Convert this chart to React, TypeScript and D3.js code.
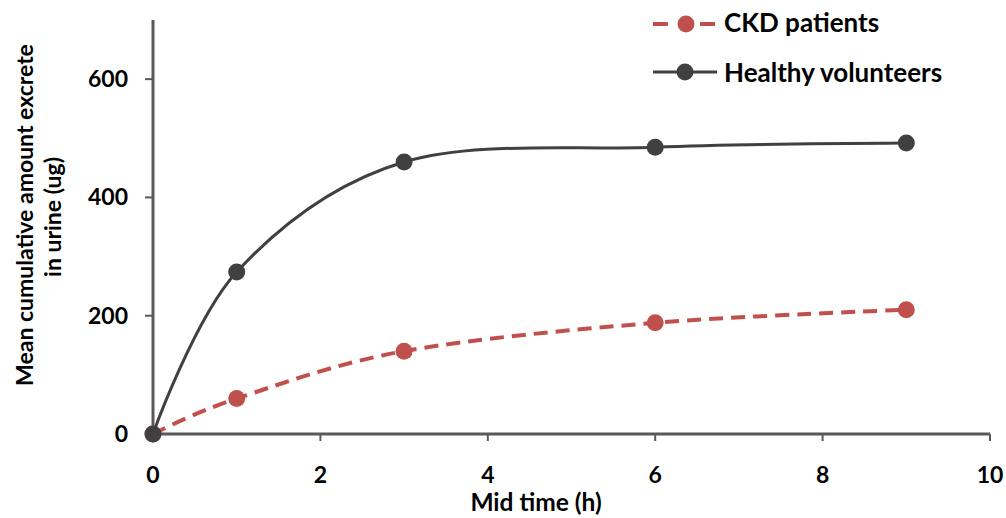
import React from "react";
import * as d3 from "d3";

const times = [0, 1, 3, 6, 9];
const ckd = [0, 60, 140, 188, 210];
const healthy = [0, 274, 460, 485, 492];
const xTicks = [0, 2, 4, 6, 8, 10];
const yTicks = [0, 200, 400, 600];
const seriesNames = ["CKD patients", "Healthy volunteers"];

const W = 1006, H = 518;
const FONT = "Lato, 'Open Sans', sans-serif";

export default function App() {
  const x = d3.scaleLinear().domain([0, 10]).range([153, 990]);
  const y = d3.scaleLinear().domain([0, 700]).range([434, 20]);
  const line = d3
    .line<number>()
    .x((_, i) => x(times[i]))
    .y((d) => y(d))
    .curve(d3.curveCatmullRom.alpha(0));
  const axisColor = "#595959";
  const red = "#C0504D";
  const dark = "#404040";
  return (
    <svg width={W} height={H} style={{ position: "absolute", left: 0, top: 0 }} fontFamily={FONT}>
      <rect width={W} height={H} fill="#fff" />
      {/* axes */}
      <line x1={x(0)} x2={x(0)} y1={y(700)} y2={y(0)} stroke={axisColor} strokeWidth={3} />
      <line x1={x(0)} x2={x(10)} y1={y(0)} y2={y(0)} stroke={axisColor} strokeWidth={3} />
      {yTicks.map((t) => (
        <g key={"y" + t}>
          <line x1={x(0) - 8} x2={x(0)} y1={y(t)} y2={y(t)} stroke={axisColor} strokeWidth={2} />
          <text x={128} y={y(t) + 8} textAnchor="end" fontSize={23} fontWeight={700} fill="#000">
            {t}
          </text>
        </g>
      ))}
      {xTicks.map((t) => (
        <g key={"x" + t}>
          <line x1={x(t)} x2={x(t)} y1={y(0)} y2={y(0) + 7} stroke={axisColor} strokeWidth={2} />
          <text x={x(t)} y={483} textAnchor="middle" fontSize={23} fontWeight={700} fill="#000">
            {t}
          </text>
        </g>
      ))}
      <text x={536} y={511} textAnchor="middle" fontSize={24.5} fontWeight={700} fill="#000">
        Mid time (h)
      </text>
      <text transform="rotate(-90)" textAnchor="middle" fontSize={23} fontWeight={700} fill="#000">
        <tspan x={-215} y={33}>Mean cumulative amount excrete</tspan>
        <tspan x={-217} y={61}>in urine (ug)</tspan>
      </text>
      {/* series */}
      <path d={line(ckd) || ""} fill="none" stroke={red} strokeWidth={4} strokeDasharray="14 8" />
      <path d={line(healthy) || ""} fill="none" stroke={dark} strokeWidth={3} />
      {ckd.map((v, i) => (
        <circle key={"c" + i} cx={x(times[i])} cy={y(v)} r={8.5} fill={red} />
      ))}
      {healthy.map((v, i) => (
        <circle key={"h" + i} cx={x(times[i])} cy={y(v)} r={8.5} fill={dark} />
      ))}
      {/* legend */}
      <g>
        <line x1={653} x2={668} y1={24} y2={24} stroke={red} strokeWidth={4} />
        <line x1={700} x2={715} y1={24} y2={24} stroke={red} strokeWidth={4} />
        <circle cx={686} cy={24} r={8.5} fill={red} />
        <text x={724} y={32} fontSize={26} fontWeight={700} fill="#000">
          {seriesNames[0]}
        </text>
        <line x1={653} x2={717} y1={72} y2={72} stroke={dark} strokeWidth={3} />
        <circle cx={685} cy={72} r={8.5} fill={dark} />
        <text x={724} y={82} fontSize={26} fontWeight={700} fill="#000">
          {seriesNames[1]}
        </text>
      </g>
    </svg>
  );
}
